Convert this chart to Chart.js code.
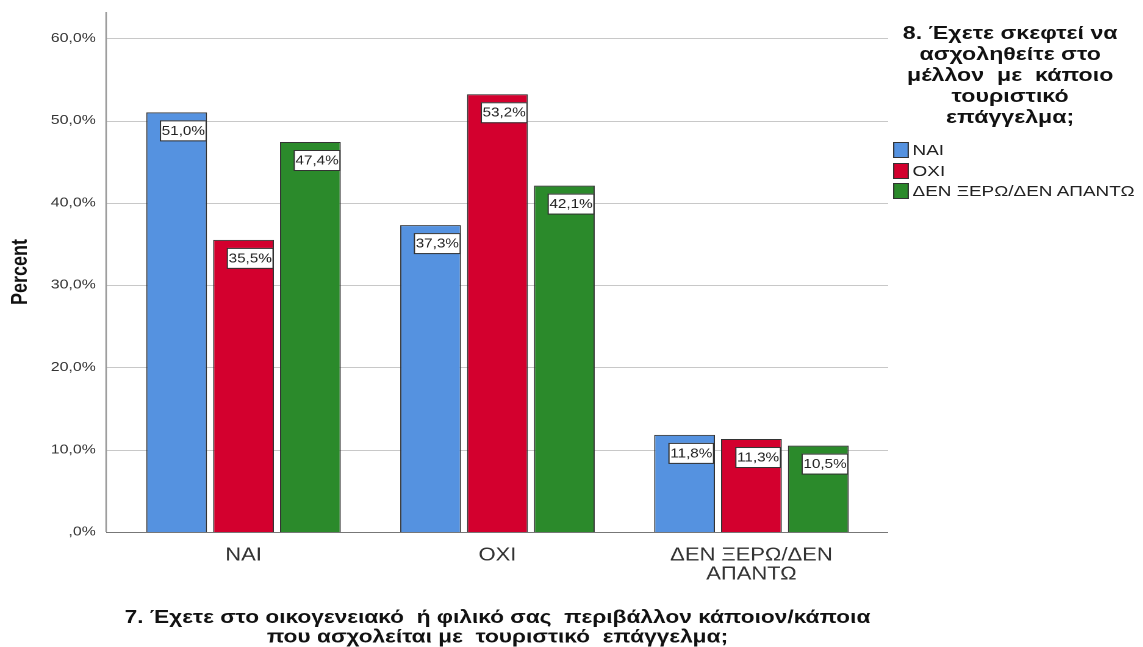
<!DOCTYPE html>
<html lang="el">
<head>
    <meta charset="UTF-8">
    <title>Τουριστικό επάγγελμα</title>
    <script src="https://cdn.jsdelivr.net/npm/chart.js"></script>
    <style>
        body { margin: 0; background: #fff; font-family: Arial, "Liberation Sans", sans-serif; overflow: hidden; }
        /* the original picture is stretched sideways, so the whole stage is widened */
        .stage { position: relative; width: 937px; height: 647px; transform: scaleX(1.22); transform-origin: 0 0; }
        .legend { position: absolute; left: 728px; top: 22px; width: 209px; color: #111; }
        .legend h4 { margin: 0 0 13px 0; font-size: 19px; line-height: 21px; font-weight: bold; text-align: center; white-space: pre; padding-right: 9px; }
        .legend .item { display: flex; align-items: center; height: 20.5px; font-size: 15.5px; color: #222; padding-left: 4px; }
        .legend .sw { width: 13px; height: 16px; border: 1px solid #333; margin-right: 3px; box-sizing: border-box; }
    </style>
</head>
<body>
    <div class="stage">
        <canvas id="chart"></canvas>
        <div class="legend" id="legend"></div>
    </div>
    <script>
        // data
        const categories = ['ΝΑΙ', 'ΟΧΙ', ['ΔΕΝ ΞΕΡΩ/ΔΕΝ', 'ΑΠΑΝΤΩ']];
        const seriesLabels = ['ΝΑΙ', 'ΟΧΙ', 'ΔΕΝ ΞΕΡΩ/ΔΕΝ ΑΠΑΝΤΩ'];
        const naiValues = [51.0, 37.3, 11.8];
        const oxiValues = [35.5, 53.2, 11.3];
        const dkValues = [47.4, 42.1, 10.5];
        const yTicks = [0, 10, 20, 30, 40, 50, 60];
        const seriesColors = ['#5592e0', '#d3002e', '#2b8a2b'];
        const legendTitle = ['8. Έχετε σκεφτεί να', 'ασχοληθείτε στο', 'μέλλον  με  κάποιο', 'τουριστικό', 'επάγγελμα;'];
        const xTitle = ['7. Έχετε στο οικογενειακό  ή φιλικό σας  περιβάλλον κάποιον/κάποια', 'που ασχολείται με  τουριστικό  επάγγελμα;'];

        const fontFamily = 'Arial, "Liberation Sans", sans-serif';

        function pct(v) {
            const s = v.toFixed(1).replace('.', ',');
            return (v === 0 ? ',0' : s) + '%';
        }

        // gridlines and axis lines run a bit wider than the bar area
        const frame = {
            id: 'frame',
            beforeDatasetsDraw(chart) {
                const ctx = chart.ctx;
                const area = chart.chartArea;
                const yScale = chart.scales.y;
                const x0 = area.left - 8.5;
                const x1 = area.right + 8;
                ctx.save();
                ctx.lineWidth = 1;
                ctx.strokeStyle = '#c8c8c8';
                yTicks.forEach(v => {
                    if (v === 0) return;
                    const y = Math.round(yScale.getPixelForValue(v)) + 0.5;
                    ctx.beginPath();
                    ctx.moveTo(x0, y);
                    ctx.lineTo(x1, y);
                    ctx.stroke();
                });
                ctx.strokeStyle = '#999';
                ctx.lineWidth = 1.3;
                ctx.beginPath();
                ctx.moveTo(x0, area.top);
                ctx.lineTo(x0, area.bottom);
                ctx.stroke();
                ctx.strokeStyle = '#777';
                ctx.lineWidth = 1;
                const yb = Math.round(yScale.getPixelForValue(0)) + 0.5;
                ctx.beginPath();
                ctx.moveTo(x0, yb);
                ctx.lineTo(x1, yb);
                ctx.stroke();
                ctx.restore();
            }
        };

        // value boxes inside the bars
        const valueBoxes = {
            id: 'valueBoxes',
            afterDatasetsDraw(chart) {
                const ctx = chart.ctx;
                ctx.save();
                ctx.font = '12.5px ' + fontFamily;
                ctx.textAlign = 'center';
                ctx.textBaseline = 'middle';
                chart.data.datasets.forEach((ds, i) => {
                    chart.getDatasetMeta(i).data.forEach((bar, j) => {
                        const txt = pct(ds.data[j]);
                        const w = ctx.measureText(txt).width + 2;
                        const cx = bar.x + 5.5;
                        const top = bar.y + 8;
                        ctx.fillStyle = '#fff';
                        ctx.fillRect(cx - w / 2, top, w, 20);
                        ctx.strokeStyle = '#333';
                        ctx.lineWidth = 1;
                        ctx.strokeRect(cx - w / 2, top + 0.5, w, 20);
                        ctx.fillStyle = '#222';
                        ctx.fillText(txt, cx, top + 11);
                    });
                });
                ctx.restore();
            }
        };

        const datasets = [naiValues, oxiValues, dkValues].map((vals, i) => ({
            label: seriesLabels[i],
            data: vals,
            backgroundColor: seriesColors[i],
            borderColor: '#333',
            borderWidth: 1,
            categoryPercentage: 0.79,
            barPercentage: 0.909
        }));

        new Chart(document.getElementById('chart'), {
            type: 'bar',
            data: { labels: categories, datasets: datasets },
            options: {
                responsive: true,
                maintainAspectRatio: false,
                animation: false,
                devicePixelRatio: 2,
                layout: { padding: { top: 12, right: 217, left: 0, bottom: 0 } },
                plugins: {
                    legend: { display: false },
                    tooltip: { enabled: false }
                },
                scales: {
                    x: {
                        grid: { display: false },
                        border: { display: false },
                        ticks: {
                            color: '#333',
                            padding: 6,
                            font: { family: fontFamily, size: 18, lineHeight: 1.05 }
                        },
                        title: {
                            display: true,
                            text: xTitle,
                            color: '#111',
                            font: { family: fontFamily, size: 18.6, weight: 'bold', lineHeight: 1.05 },
                            padding: { top: 0, bottom: 0 }
                        },
                        afterFit(scale) {
                            scale.height = 115;
                            scale.paddingLeft = 0;
                            scale.paddingRight = 0;
                        }
                    },
                    y: {
                        min: 0,
                        max: 63.2,
                        afterBuildTicks(scale) {
                            scale.ticks = yTicks.map(v => ({ value: v }));
                        },
                        grid: { display: false, drawTicks: false },
                        border: { display: false },
                        ticks: {
                            color: '#333',
                            padding: 17,
                            font: { family: fontFamily, size: 13 },
                            callback: (v) => pct(v)
                        },
                        title: {
                            display: true,
                            text: 'Percent',
                            color: '#111',
                            font: { family: fontFamily, size: 18, weight: 'bold' },
                            padding: { top: 6, bottom: 0 }
                        },
                        afterFit(scale) {
                            scale.width = 95.5;
                            scale.paddingTop = 0;
                            scale.paddingBottom = 0;
                        }
                    }
                }
            },
            plugins: [frame, valueBoxes]
        });

        // legend on the right
        const legendEl = document.getElementById('legend');
        let html = '<h4>' + legendTitle.join('\n') + '</h4>';
        seriesLabels.forEach((lab, i) => {
            html += '<div class="item"><span class="sw" style="background:' + seriesColors[i] + '"></span>' + lab + '</div>';
        });
        legendEl.innerHTML = html;
    </script>
</body>
</html>
